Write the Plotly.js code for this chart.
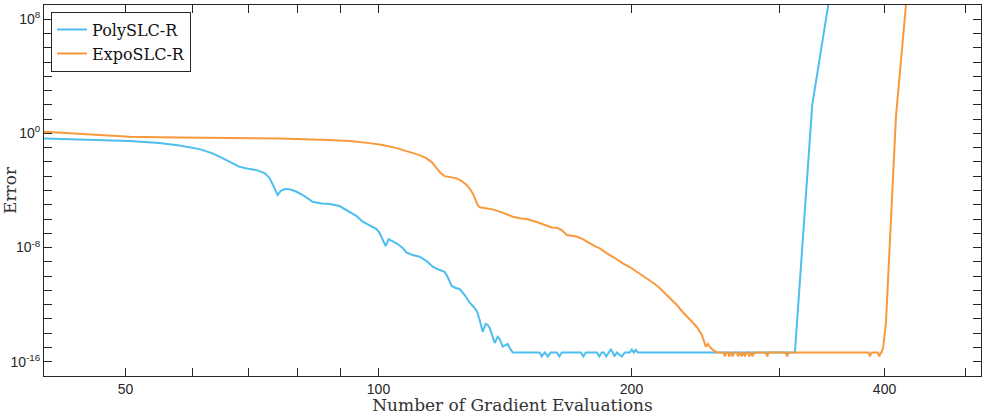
<!DOCTYPE html>
<html>
<head>
<meta charset="utf-8">
<script src="https://cdn.plot.ly/plotly-3.0.1.min.js"></script>
<style>html,body{margin:0;padding:0;background:#fff;}#chart{width:986px;height:415px;}</style>
</head>
<body>
<div id="chart"></div>
<script>
const polyName = 'PolySLC-R';
const expoName = 'ExpoSLC-R';

const polyX = [40, 45.30, 50.55, 54.88, 57.98, 61.25, 63.47, 65.05, 66.49, 68.34, 70.24, 71.60, 73.19, 74.20, 75.22, 75.85, 76.47, 77.32, 78.60, 79.90, 81.67, 83.48, 85.57, 87.47, 89.90, 92.40, 94.19, 95.75, 98.14, 99.49, 100.32, 101.14, 101.98, 102.82, 103.67, 105.39, 106.84, 108.02, 109.81, 111.94, 114.11, 116.00, 118.25, 119.88, 120.87, 122.20, 123.55, 124.91, 126.64, 128.39, 129.80, 130.87, 131.95, 133.04, 134.14, 134.88, 135.62, 137.49, 138.63, 139.39, 140.54, 141.70, 142.48, 143.27, 144.45,
  155.54, 156.40, 157.69, 158.99, 160.30, 162.96, 164.08, 165.21, 174.04, 175.24, 176.45, 181.85, 183.10, 184.36, 185.37, 186.65, 187.93, 188.96, 190.00, 190.78, 192.10, 194.75, 196.36, 199.07, 200.16, 201.26, 202.37, 203.48, 312.92, 328.12, 342.83, 350.14];
const polyY = [0.447, 0.368, 0.289, 0.209, 0.140, 0.0796, 0.0397, 0.0202, 0.01026, 0.00458, 0.00316, 0.00269, 0.00166, 7.41e-4, 1.48e-4, 4.78e-5, 9.10e-5, 1.26e-4, 1.16e-4, 8.13e-5, 4.06e-5, 1.62e-5, 1.21e-5, 1.12e-5, 8.11e-6, 3.24e-6, 1.62e-6, 6.45e-7, 3.22e-7, 1.99e-7, 1.04e-7, 3.37e-8, 1.28e-8, 3.96e-8, 3.11e-8, 1.77e-8, 9.29e-9, 4.35e-9, 3.01e-9, 2.29e-9, 1.14e-9, 4.55e-10, 2.67e-10, 2.03e-10, 8.65e-11, 2.03e-11, 1.47e-11, 1.25e-11, 4.75e-12, 1.37e-12, 6.85e-13, 3.78e-13, 8.43e-14, 1.28e-14, 4.42e-14, 3.76e-14, 2.32e-14, 2.07e-15, 5.70e-15, 3.94e-15, 1.14e-15, 1.50e-15, 1.76e-15, 9.23e-16, 4.47e-16,
  4.47e-16, 2.34e-16, 4.47e-16, 2.34e-16, 4.47e-16, 4.47e-16, 2.34e-16, 4.47e-16, 4.47e-16, 2.34e-16, 4.47e-16, 4.47e-16, 2.34e-16, 4.47e-16, 4.47e-16, 2.34e-16, 4.47e-16, 7.24e-16, 4.47e-16, 2.34e-16, 4.47e-16, 2.34e-16, 4.47e-16, 4.47e-16, 7.24e-16, 4.47e-16, 6.7e-16, 4.47e-16, 4.47e-16, 95.9, 9.66e8, 1.37e12];

const expoX = [40, 42.88, 46.18, 50.55, 57.98, 66.49, 76.26, 87.47, 92.40, 97.60, 101.14, 105.10, 108.91, 111.94, 114.11, 115.69, 117.28, 118.57, 119.88, 121.87, 123.89, 125.60, 127.33, 128.39, 129.45, 130.52, 131.23, 131.95, 134.14, 136.74, 140.54, 144.45, 147.24, 150.10, 154.27, 158.56, 160.74, 162.96, 165.21, 167.49, 169.80, 172.15, 175.00, 178.39, 180.85, 183.35, 186.90, 191.05, 195.28, 199.07, 202.92, 206.29, 210.29, 213.19, 216.13, 219.11, 222.14, 224.59, 226.44, 229.57, 232.74, 234.66, 236.60, 239.21, 242.51, 243.84, 245.18, 246.53, 247.88, 249.93, 252.69,
  257.23, 258.29, 259.35, 260.42, 261.35, 262.57, 263.80, 265.10, 266.78, 267.88, 269.13, 270.39, 271.58, 272.85, 274.12, 275.10, 276.08, 277.37, 278.67, 279.89, 288.86, 290.05, 291.24, 305.12, 306.38, 307.64, 382.75, 384.33, 385.91, 392.63, 394.25, 395.87, 396.85, 398.59, 401.55, 412.71, 424.18, 431.22];
const expoY = [1.294, 1.049, 0.760, 0.578, 0.525, 0.492, 0.432, 0.351, 0.289, 0.209, 0.152, 0.0935, 0.0515, 0.0302, 0.0178, 0.00978, 0.00372, 0.00166, 0.00102, 8.04e-4, 7.06e-4, 4.57e-4, 2.40e-4, 1.36e-4, 6.28e-5, 2.13e-5, 9.52e-6, 6.58e-6, 5.42e-6, 4.76e-6, 2.84e-6, 1.45e-6, 1.12e-6, 9.97e-7, 6.15e-7, 3.22e-7, 2.53e-7, 2.45e-7, 1.69e-7, 7.55e-8, 6.43e-8, 6.0e-8, 3.96e-8, 1.98e-8, 1.28e-8, 8.85e-9, 3.95e-9, 1.85e-9, 7.88e-10, 4.34e-10, 2.03e-10, 1.02e-10, 5.33e-11, 2.80e-11, 1.40e-11, 6.56e-12, 2.79e-12, 1.53e-12, 9.46e-13, 3.60e-13, 1.44e-13, 8.43e-14, 4.95e-14, 2.73e-14, 7.51e-15, 3.35e-15, 1.14e-15, 1.76e-15, 1.08e-15, 6.68e-16, 4.47e-16,
  4.47e-16, 2.34e-16, 4.47e-16, 4.47e-16, 2.34e-16, 4.47e-16, 2.34e-16, 4.47e-16, 4.47e-16, 2.34e-16, 4.47e-16, 2.34e-16, 4.47e-16, 2.34e-16, 4.47e-16, 4.47e-16, 2.34e-16, 4.47e-16, 2.34e-16, 4.47e-16, 4.47e-16, 2.34e-16, 4.47e-16, 4.47e-16, 2.34e-16, 4.47e-16, 4.47e-16, 2.34e-16, 4.47e-16, 4.47e-16, 2.34e-16, 4.47e-16, 4.47e-16, 1.08e-15, 5.20e-14, 14.5, 9.66e8, 6.2e14];

const xTickVals = [40, 50, 60, 70, 80, 90, 100, 200, 300, 400, 500];
const xTickText = ['', '50', '', '', '', '', '100', '200', '', '400', ''];
const yExponents = [-17, -16, -15, -14, -13, -12, -11, -10, -9, -8, -7, -6, -5, -4, -3, -2, -1, 0, 1, 2, 3, 4, 5, 6, 7, 8, 9];
const yLabelled = [-16, -8, 0, 8];

const yTickVals = yExponents.map(e => Math.pow(10, e));
const yTickText = yExponents.map(e => yLabelled.includes(e) ? '10<sup>' + e + '</sup>' : '');

const axisColor = '#262626';
const serif = '"DejaVu Serif", "Liberation Serif", serif';
const sans = '"Liberation Sans", Arial, sans-serif';

const traces = [
  {x: polyX, y: polyY, name: polyName, type: 'scatter', mode: 'lines',
   line: {color: '#4DBEEE', width: 2}},
  {x: expoX, y: expoY, name: expoName, type: 'scatter', mode: 'lines',
   line: {color: '#F89A3C', width: 2}}
];

const layout = {
  width: 986, height: 415,
  margin: {l: 44, r: 5, t: 5, b: 39},
  paper_bgcolor: '#fff', plot_bgcolor: '#fff',
  showlegend: true,
  legend: {x: 0.0075, y: 0.982, xanchor: 'left', yanchor: 'top',
    bgcolor: '#fff', bordercolor: axisColor, borderwidth: 1,
    font: {family: serif, size: 16, color: '#111'}, tracegroupgap: 0},
  xaxis: {
    type: 'log', range: [Math.log10(40), Math.log10(521)],
    tickmode: 'array', tickvals: xTickVals, ticktext: xTickText,
    ticks: 'inside', ticklen: 8, tickwidth: 1, tickcolor: axisColor,
    showline: true, linecolor: axisColor, linewidth: 1, mirror: 'ticks',
    showgrid: false, zeroline: false,
    tickfont: {family: sans, size: 14, color: axisColor},
    title: {text: 'Number of Gradient Evaluations', font: {family: serif, size: 17, color: '#333'}, standoff: 3}
  },
  yaxis: {
    type: 'log', range: [-17, 9],
    tickmode: 'array', tickvals: yTickVals, ticktext: yTickText,
    ticks: 'inside', ticklen: 8, tickwidth: 1, tickcolor: axisColor,
    showline: true, linecolor: axisColor, linewidth: 1, mirror: 'ticks',
    showgrid: false, zeroline: false,
    tickfont: {family: sans, size: 14, color: axisColor},
    title: {text: 'Error', font: {family: serif, size: 17, color: '#333'}, standoff: 4}
  }
};

Plotly.newPlot('chart', traces, layout, {displayModeBar: false, staticPlot: true});
</script>
</body>
</html>
